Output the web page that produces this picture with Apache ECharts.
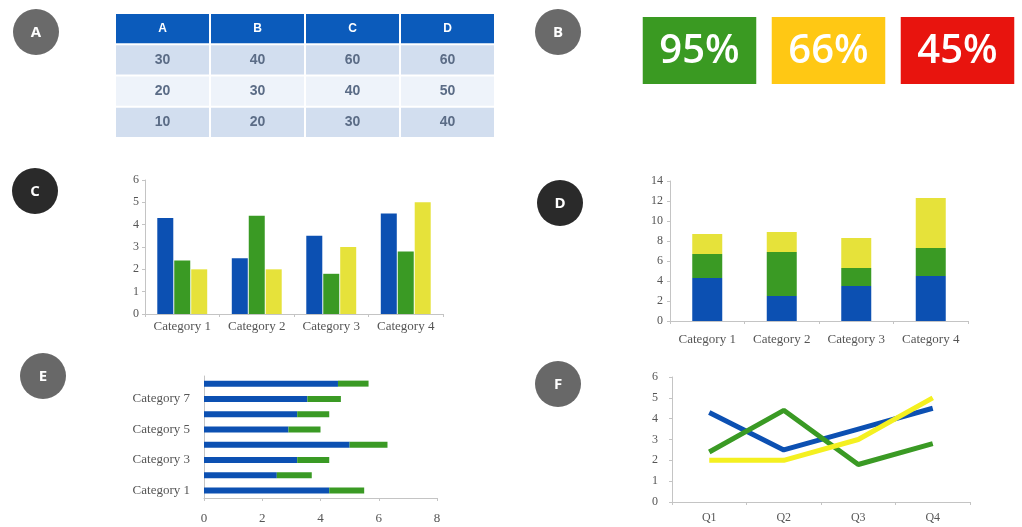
<!DOCTYPE html>
<html>
<head>
<meta charset="utf-8">
<script src="https://cdn.jsdelivr.net/npm/echarts@6/dist/echarts.min.js"></script>
<style>
  html, body { margin: 0; padding: 0; background: #fff; }
  #container { width: 1022px; height: 527px; }
</style>
</head>
<body>
<div id="container"></div>
<script>
// data
var tableHead = ['A', 'B', 'C', 'D'];
var tableRow1 = [30, 40, 60, 60];
var tableRow2 = [20, 30, 40, 50];
var tableRow3 = [10, 20, 30, 40];

var kpiLabels = ['95%', '66%', '45%'];
var kpiColors = ['#3a9a22', '#ffc814', '#e8140e'];

var categories = ['Category 1', 'Category 2', 'Category 3', 'Category 4'];
var series1 = [4.3, 2.5, 3.5, 4.5];
var series2 = [2.4, 4.4, 1.8, 2.8];
var series3 = [2, 2, 3, 5];

var hCategories = ['Category 1', 'Category 2', 'Category 3', 'Category 4',
                   'Category 5', 'Category 6', 'Category 7', 'Category 8'];
var hBlue = [4.3, 2.5, 3.2, 5.0, 2.9, 3.2, 3.55, 4.6];
var hGreen = [1.2, 1.2, 1.1, 1.3, 1.1, 1.1, 1.15, 1.05];

var quarters = ['Q1', 'Q2', 'Q3', 'Q4'];

var blue = '#0c50b2';
var green = '#3a9a24';
var yellow = '#e6e23a';
var axisGray = '#c4c4c4';
var txtFont = 'Liberation Serif';

// table cells built from the arrays above
var tableRows = [tableHead, tableRow1, tableRow2, tableRow3];
var tableData = [];
var tableText = [];
tableRows.forEach(function (row, r) {
    row.forEach(function (v, c) {
        tableData.push([c, r]);
        tableText.push(String(v));
    });
});

function renderCell(params, api) {
    var c = api.coord([api.value(0), api.value(1)]);
    var s = api.size([1, 1]);
    var r = api.value(1);
    var fill = r === 0 ? '#0b5bbb' : (r % 2 ? '#d2deef' : '#eef3fa');
    return {
        type: 'group',
        children: [{
            type: 'rect',
            shape: { x: c[0] - s[0] / 2 + 1, y: c[1] - s[1] / 2 + 1, width: s[0] - 2, height: s[1] - 2 },
            style: { fill: fill }
        }, {
            type: 'text',
            x: c[0], y: c[1],
            style: {
                text: tableText[params.dataIndex],
                fill: r === 0 ? '#ffffff' : '#5b6c86',
                font: 'bold ' + (r === 0 ? 12 : 14) + 'px "Liberation Sans"',
                align: 'center', verticalAlign: 'middle'
            }
        }]
    };
}

var kpiData = kpiLabels.map(function (l, i) { return [i, 1]; });
function renderKpi(params, api) {
    var i = api.value(0);
    var top = api.coord([i, 1]);
    var bottom = api.coord([i, 0]);
    var w = api.size([1, 0])[0] * 0.88;
    return {
        type: 'group',
        children: [{
            type: 'rect',
            shape: { x: top[0] - w / 2, y: top[1], width: w, height: bottom[1] - top[1] },
            style: { fill: kpiColors[i] }
        }, {
            type: 'text',
            x: top[0], y: (top[1] + bottom[1]) / 2 + 1,
            style: {
                text: kpiLabels[i], fill: '#ffffff',
                font: '600 40px "Open Sans"',
                align: 'center', verticalAlign: 'middle'
            }
        }]
    };
}

// round letter badges
var badges = [
    { t: 'A', x: 36, y: 32, c: '#6a6a6a' },
    { t: 'B', x: 558, y: 32, c: '#6a6a6a' },
    { t: 'C', x: 35, y: 191, c: '#2a2a2a' },
    { t: 'D', x: 560, y: 203, c: '#2a2a2a' },
    { t: 'E', x: 43, y: 376, c: '#686868' },
    { t: 'F', x: 558, y: 384, c: '#686868' }
];
var graphics = badges.map(function (b) {
    return {
        type: 'group', x: b.x, y: b.y,
        children: [
            { type: 'circle', shape: { cx: 0, cy: 0, r: 23 }, style: { fill: b.c } },
            { type: 'text', x: 0, y: 1, style: { text: b.t, fill: '#fff', font: 'bold 15px "Open Sans"', align: 'center', verticalAlign: 'middle' } }
        ]
    };
});

function catAxis(grid, data, extra) {
    var a = {
        type: 'category', gridIndex: grid, data: data,
        axisLine: { lineStyle: { color: axisGray } },
        axisTick: { show: true, lineStyle: { color: axisGray }, length: 3 },
        axisLabel: { color: '#555', fontFamily: txtFont, fontSize: 13, interval: 0 }
    };
    for (var k in extra) a[k] = extra[k];
    return a;
}
function valAxis(grid, max, interval, extra) {
    var a = {
        type: 'value', gridIndex: grid, min: 0, max: max, interval: interval,
        axisLine: { show: true, lineStyle: { color: axisGray } },
        axisTick: { show: true, lineStyle: { color: axisGray }, length: 3 },
        splitLine: { show: false },
        axisLabel: { color: '#555', fontFamily: txtFont, fontSize: 12 }
    };
    for (var k in extra) a[k] = extra[k];
    return a;
}
function hidden(type, grid, data) {
    return { type: type, gridIndex: grid, data: data, show: false, min: type === 'value' ? 0 : undefined, max: type === 'value' ? 1 : undefined };
}

var option = {
    animation: false,
    backgroundColor: '#ffffff',
    graphic: graphics,
    grid: [
        { left: 115, top: 13, width: 380, height: 125 },   // A table
        { left: 635, top: 17, width: 408, height: 67 },    // B kpis
        { left: 145, top: 180, width: 298, height: 134 },  // C
        { left: 670, top: 181, width: 298, height: 140 },  // D
        { left: 204, top: 376, width: 233, height: 122 },  // E
        { left: 672, top: 377, width: 298, height: 125 }   // F
    ],
    xAxis: [
        hidden('category', 0, tableHead),
        hidden('category', 1, kpiLabels),
        catAxis(2, categories, { axisLabel: { color: '#555', fontFamily: txtFont, fontSize: 13, interval: 0, margin: 6 } }),
        catAxis(3, categories, { axisLabel: { color: '#555', fontFamily: txtFont, fontSize: 13, interval: 0, margin: 12 } }),
        valAxis(4, 8, 2, { axisLabel: { color: '#555', fontFamily: txtFont, fontSize: 13, margin: 14 } }),
        catAxis(5, quarters, { axisLabel: { color: '#555', fontFamily: txtFont, fontSize: 12, interval: 0, margin: 10 } })
    ],
    yAxis: [
        { type: 'category', gridIndex: 0, data: ['h', 'r1', 'r2', 'r3'], inverse: true, show: false },
        hidden('value', 1),
        valAxis(2, 6, 1, { axisLabel: { color: '#555', fontFamily: txtFont, fontSize: 12, margin: 6 } }),
        valAxis(3, 14, 2, { axisLabel: { color: '#555', fontFamily: txtFont, fontSize: 12, margin: 7 } }),
        catAxis(4, hCategories, { axisTick: { show: false }, axisLabel: { color: '#555', fontFamily: txtFont, fontSize: 13, interval: 1, margin: 14 } }),
        valAxis(5, 6, 1, { axisLabel: { color: '#555', fontFamily: txtFont, fontSize: 12, margin: 14 } })
    ],
    series: [
        { type: 'custom', xAxisIndex: 0, yAxisIndex: 0, data: tableData, renderItem: renderCell },
        { type: 'custom', xAxisIndex: 1, yAxisIndex: 1, data: kpiData, renderItem: renderKpi },

        { name: 'Series 1', type: 'bar', xAxisIndex: 2, yAxisIndex: 2, data: series1, color: blue, barWidth: 16, barGap: '6%' },
        { name: 'Series 2', type: 'bar', xAxisIndex: 2, yAxisIndex: 2, data: series2, color: green, barWidth: 16, barGap: '6%' },
        { name: 'Series 3', type: 'bar', xAxisIndex: 2, yAxisIndex: 2, data: series3, color: yellow, barWidth: 16, barGap: '6%' },

        { name: 'Series 1', type: 'bar', stack: 'd', xAxisIndex: 3, yAxisIndex: 3, data: series1, color: blue, barWidth: 30 },
        { name: 'Series 2', type: 'bar', stack: 'd', xAxisIndex: 3, yAxisIndex: 3, data: series2, color: green, barWidth: 30 },
        { name: 'Series 3', type: 'bar', stack: 'd', xAxisIndex: 3, yAxisIndex: 3, data: series3, color: yellow, barWidth: 30 },

        { name: 'Blue', type: 'bar', stack: 'e', xAxisIndex: 4, yAxisIndex: 4, data: hBlue, color: blue, barWidth: 6 },
        { name: 'Green', type: 'bar', stack: 'e', xAxisIndex: 4, yAxisIndex: 4, data: hGreen, color: green, barWidth: 6 },

        { name: 'Series 1', type: 'line', xAxisIndex: 5, yAxisIndex: 5, data: series1, color: blue, showSymbol: false, lineStyle: { width: 5 } },
        { name: 'Series 2', type: 'line', xAxisIndex: 5, yAxisIndex: 5, data: series2, color: green, showSymbol: false, lineStyle: { width: 5 } },
        { name: 'Series 3', type: 'line', xAxisIndex: 5, yAxisIndex: 5, data: series3, color: '#f4f020', showSymbol: false, lineStyle: { width: 5 } }
    ]
};

var myChart = echarts.init(document.getElementById('container'));
myChart.setOption(option);
</script>
</body>
</html>
